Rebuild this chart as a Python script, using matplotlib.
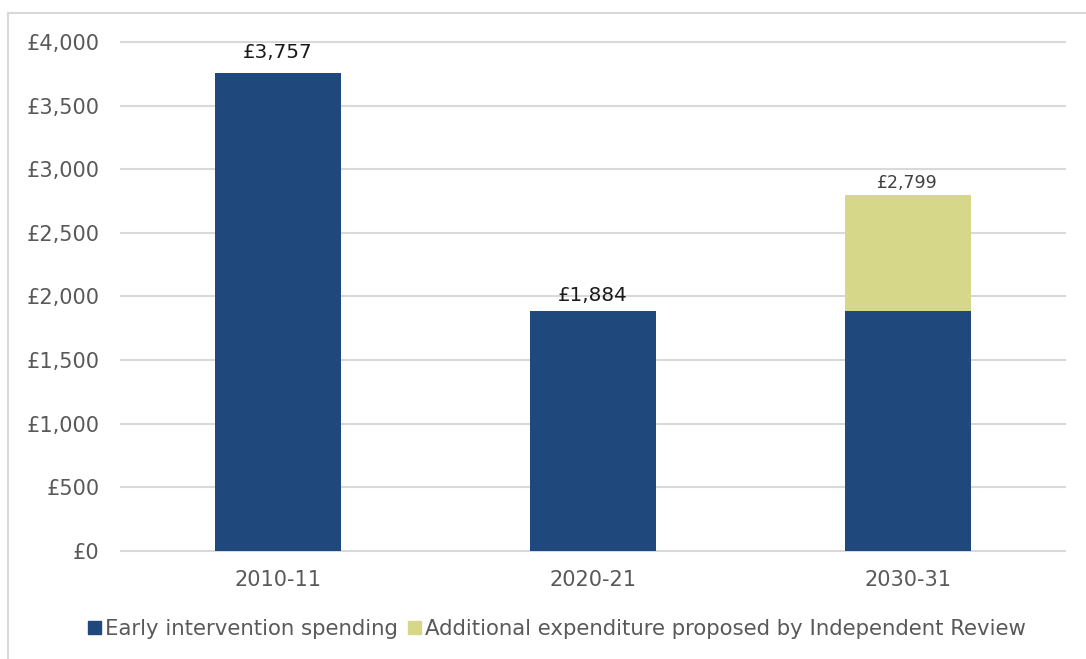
import matplotlib.pyplot as plt
from matplotlib.lines import Line2D

plt.rcParams['font.family'] = ['DejaVu Sans']

years = ['2010-11', '2020-21', '2030-31']
early_spending = [3757, 1884, 1884]
additional_review = [0, 0, 915]
totals = [a + b for a, b in zip(early_spending, additional_review)]

navy = '#1F497D'
olive = '#D7D78A'
grid_col = '#D9D9D9'
text_col = '#595959'

fig = plt.figure(figsize=(10.86, 6.59), dpi=100)
ax = fig.add_axes([0.111, 0.1639, 0.8697, 0.7724])

x = range(len(years))
ax.bar(x, early_spending, width=0.4, color=navy, zorder=3)
ax.bar(x, additional_review, width=0.4, bottom=early_spending, color=olive, zorder=3)

ax.set_xlim(-0.5, len(years) - 0.5)
ax.set_ylim(0, 4000)
ax.set_yticks(range(0, 4001, 500))
ax.set_yticklabels(['£{:,}'.format(v) for v in range(0, 4001, 500)])
ax.set_xticks(list(x))
ax.set_xticklabels(years)
ax.tick_params(axis='both', length=0, colors=text_col, labelsize=15)
ax.tick_params(axis='y', pad=15)
ax.tick_params(axis='x', pad=14)
ax.yaxis.grid(True, color=grid_col, linewidth=1.5, zorder=0)
for gl in ax.get_ygridlines():
    gl.set_clip_on(False)
for s in ax.spines.values():
    s.set_visible(False)

# value labels on top of the bars (offsets in points)
label_gap = [11, 7.5, 5]
for i, total in enumerate(totals):
    stacked = additional_review[i] > 0
    ax.annotate('£{:,}'.format(total), (i, total), xytext=(0, label_gap[i]),
                textcoords='offset points', ha='center', va='baseline',
                fontsize=12.5 if stacked else 14.3,
                color='#404040' if stacked else '#1a1a1a', zorder=4)

# light frame around the chart area
fig.add_artist(Line2D([8 / 1086, 1.0], [1 - 13 / 659] * 2, color=grid_col, lw=1.5))
fig.add_artist(Line2D([8 / 1086] * 2, [0.0, 1 - 13 / 659], color=grid_col, lw=1.5))

handles = [plt.Rectangle((0, 0), 1, 1, color=navy), plt.Rectangle((0, 0), 1, 1, color=olive)]
fig.legend(handles, ['Early intervention spending',
                     'Additional expenditure proposed by Independent Review'],
           loc='center', bbox_to_anchor=(0.513, 0.0455), ncol=2, frameon=False,
           handlelength=0.6, handleheight=0.6, handletextpad=0.2, columnspacing=0.5,
           labelcolor=text_col, fontsize=15.3)

fig.savefig('out.png', dpi=100)
